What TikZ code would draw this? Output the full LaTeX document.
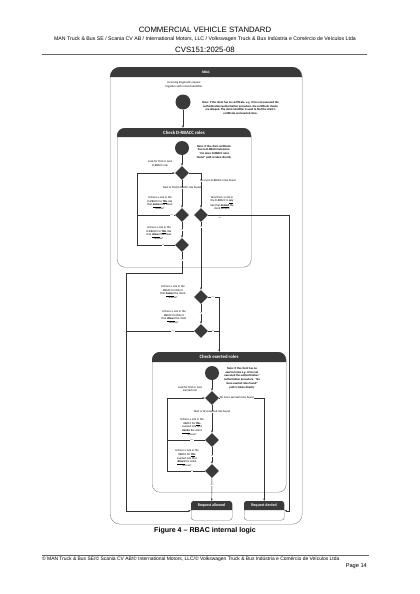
\documentclass[tikz,border=0pt]{standalone}
\usepackage{fontspec}
\setmainfont{Liberation Sans}
\newfontfamily\dfont{Carlito}
\usetikzlibrary{shapes.geometric,arrows.meta}
\definecolor{hdr}{HTML}{3A3A3A}
\definecolor{framec}{HTML}{808080}
\def\pxu{1.4173pt}
\newcommand{\ul}[1]{\textbf{\underline{#1}}}
\begin{document}
\begin{tikzpicture}[x=1.4173pt,y=-1.4173pt,
  cont/.style={draw=framec, line width=0.6pt, fill=white, inner sep=0, anchor=north west},
  dia/.style={diamond, fill=hdr, inner sep=0, minimum width=14*\pxu, minimum height=14*\pxu},
  blob/.style={circle, fill=hdr, inner sep=0, minimum size=14*\pxu},
  txt/.style={font=\dfont\fontsize{4.1}{5.2}\selectfont, align=center, inner sep=0},
  note/.style={font=\dfont\bfseries\fontsize{4.1}{5.3}\selectfont, align=center, inner sep=0},
  lbl/.style={font=\dfont\fontsize{3.2}{4}\selectfont, text=black!55, inner sep=0.4pt, fill=white},
  ttl/.style={font=\dfont\bfseries\fontsize{6.8}{8}\selectfont, text=white, inner sep=0},
  conn/.style={draw=black!80, line width=0.6pt},
  arr/.style={conn, -{Latex[length=3.2pt,width=2.8pt]}},
]
\useasboundingbox (0,0) rectangle (420,594);
% page header
\node[font=\fontsize{11}{13}\selectfont] (title) at (205,29.5) {COMMERCIAL VEHICLE STANDARD};
\node[font=\fontsize{7.4}{9}\selectfont] (org) at (205,39.5) {MAN Truck \& Bus SE / Scania CV AB / International Motors, LLC / Volkswagen Truck \& Bus Indústria e Comércio de Veículos Ltda};
\node[font=\fontsize{11}{13}\selectfont] (cvs) at (205,50) {CVS151:2025-08};
\draw[black!60, line width=0.9pt] (42,54.5) -- (367,54.5);

% RBAC container
\node[cont, rounded corners=14pt, minimum width=192*\pxu, minimum height=457*\pxu] (rbac) at (110,67) {};
\fill[hdr] (110,77) [rounded corners=14pt] -- (110,67) -- (302,67) [sharp corners] -- (302,77) -- cycle;
\node[ttl, font=\dfont\bfseries\fontsize{5}{6}\selectfont] (rbacT) at (206,72) {RBAC};

\node[txt] (inc) at (184,85) {Incoming diagnostic request\\together with a client identifier};
\node[blob, minimum size=15*\pxu] (c0) at (183,102) {};
\node[note] (n1) at (240.5,108) {Note: If the client has no certificate, e.g. it has not executed the\\authentication/authorization procedure, the certificate checks\\are skipped. The client identifier is used to find the client's\\certificate and exerted roles.};

% Check D-RBACC roles
\node[cont, rounded corners=11pt, minimum width=134*\pxu, minimum height=139*\pxu] (drb) at (117,128) {};
\fill[hdr] (117,137) [rounded corners=11pt] -- (117,128) -- (251,128) [sharp corners] -- (251,137) -- cycle;
\node[ttl] (drbT) at (184,132.5) {Check D-RBACC roles};
\draw[arr] (c0.south) -- (c0.south |- drb.north);

\node[blob] (c1) at (182,148) {};
\node[note] (n2) at (214,152) {Note: If the client certificate\\has no D-RBACC Extension,\\``No more D-RBACC roles\\found'' path is taken directly};
\node[dia] (d1) at (182,173) {};
\node[dia] (d2) at (182,215) {};
\node[dia] (d3) at (201,215) {};
\node[dia] (d4) at (182,245) {};
\node[txt] (t1) at (160,163.5) {Look for first or next\\D-RBACC role};
\node[txt] (t2) at (160,203) {Is there a role in the\\D-RBACC for \ul{this} role\\that \ul{denies} the client\\access?};
\node[txt] (t3) at (222,203) {Was there a role in\\the D-RBACC in \ul{any}\\role that \ul{denied} the\\client access?};
\node[txt] (t4) at (159,233) {Is there a role in the\\D-RBACC for \ul{this} role\\that \ul{allows} the client\\access?};

\coordinate (l1) at (137,173);
\coordinate (rr) at (289,215);
\coordinate (lA) at (126,273);

\draw[arr] (c1) -- (d1);
\draw[arr] (d1) -- (d2);
\draw[arr] (d2) -- (d4);
\draw[arr] (d4.west) -| (l1) -- (d1.west);
\draw[conn] (d2.west) -- (d2.west -| l1);
\draw[arr] (d1.east) -| (d3.north);
\node[txt, fill=white, inner sep=0.3pt] (nf1) at (182,188) {Next or first D-RBACC role found};
\node[txt, fill=white, inner sep=0.3pt] (nm1) at (218,181) {No more D-RBACC roles found};

% Role 0 checks
\node[dia] (d5) at (201,297) {};
\node[dia] (d6) at (201,331) {};
\node[txt] (t5) at (173,292) {Is there a role in the\\RBACC for Role 0\\that \ul{denies} the client\\access?};
\node[txt] (t6) at (174,317) {Is there a role in the\\RBACC for Role 0\\that \ul{allows} the client\\access?};

% Check exerted roles
\node[cont, rounded corners=11pt, minimum width=134*\pxu, minimum height=140*\pxu] (exr) at (152,352) {};
\fill[hdr] (152,362) [rounded corners=11pt] -- (152,352) -- (286,352) [sharp corners] -- (286,362) -- cycle;
\node[ttl] (exrT) at (219,357) {Check exerted roles};
\node[blob] (c2) at (212,373) {};
\node[note] (n3) at (242,378) {Note: If the client has no\\exerted roles e.g. it has not\\executed the authentication/\\authorization procedure, ``No\\more exerted roles found''\\path is taken directly};
\node[dia] (d7) at (212,398) {};
\node[dia] (d8) at (212,440) {};
\node[dia] (d9) at (212,471) {};
\node[txt] (t7) at (190,389) {Look for first or next\\exerted role};
\node[txt] (t8) at (192,427) {Is there a role in the\\RBACC for \ul{this}\\exerted role that\\\ul{denies} the client\\access?};
\node[txt] (t9) at (187,458) {Is there a role in the\\RBACC for \ul{this}\\exerted role that\\\ul{allows} the client\\access?};

% Result boxes
\node[cont, rounded corners=4pt, minimum width=41*\pxu, minimum height=19*\pxu] (ral) at (191,501) {};
\fill[hdr] (191,510) [rounded corners=4pt] -- (191,501) -- (232,501) [sharp corners] -- (232,510) -- cycle;
\node[ttl, font=\dfont\bfseries\fontsize{5.6}{7}\selectfont] (ralT) at (211.5,505.5) {Request allowed};
\node[cont, rounded corners=4pt, minimum width=40*\pxu, minimum height=19*\pxu] (rden) at (244,501) {};
\fill[hdr] (244,510) [rounded corners=4pt] -- (244,501) -- (284,501) [sharp corners] -- (284,510) -- cycle;
\node[ttl, font=\dfont\bfseries\fontsize{5.6}{7}\selectfont] (rdenT) at (264,505.5) {Request denied};

% connectors, outer
\draw[arr] (d3.east) -- (rr) |- (rden.east);
\draw[arr] (d3) -- (d5);
\draw[arr] (d4.south) |- (lA) |- (ral.west);
\draw[arr] (d5) -- (d6);
\draw[arr] (d5.east) -| (exr.north);
\draw[conn] (d6.east) -- (d6.east -| exr.north);
\draw[conn] (d6.west) -- (d6.west -| lA);

% exerted connectors
\coordinate (l2) at (167,398);
\draw[arr] (c2) -- (d7);
\draw[arr] (d7) -- (d8);
\draw[arr] (d8) -- (d9);
\draw[arr] (d9.west) -| (l2) -- (d7.west);
\draw[conn] (d8.west) -- (d8.west -| l2);
\draw[arr] (d7.east) -| (rden.north);
\draw[arr] (d9) -- (ral.north);
\node[txt, fill=white, inner sep=0.3pt] (nf2) at (212,412) {Next or first exerted role found};
\node[txt, fill=white, inner sep=0.3pt, anchor=west] (nm2) at (219.5,398) {No more exerted roles found};

% yes/no labels
\node[lbl] (y1) at (172,215) {yes};
\node[lbl] (n4) at (182,230) {no};
\node[lbl] (nl4) at (163,245) {no};
\node[lbl] (y4) at (182,260) {yes};
\node[lbl, fill=none] (y3) at (220,218.5) {yes};
\node[lbl] (no3) at (201,227) {no};
\node[lbl] (y5) at (213,297) {yes};
\node[lbl] (no5) at (201,313) {no};
\node[lbl] (y6) at (173,331) {yes};
\node[lbl] (no6) at (213,331) {no};
\node[lbl] (y8) at (192,440) {yes};
\node[lbl] (no8) at (212,456) {no};
\node[lbl] (no9) at (192,471) {no};
\node[lbl] (y9) at (212,485) {yes};

% caption and footer
\node[font=\bfseries\fontsize{10}{12}\selectfont] (cap) at (205,531) {Figure 4 -- RBAC internal logic};
\draw[black!60, line width=0.9pt] (42,555) -- (369,555);
\node[font=\fontsize{7}{8}\selectfont, anchor=west, inner sep=0] (foot) at (42,559.5) {© MAN Truck \& Bus SE/© Scania CV AB/© International Motors, LLC/© Volkswagen Truck \& Bus Indústria e Comércio de Veículos Ltda};
\node[font=\fontsize{8}{10}\selectfont, anchor=east, inner sep=0] (page) at (367,566) {Page 14};
\end{tikzpicture}
\end{document}
